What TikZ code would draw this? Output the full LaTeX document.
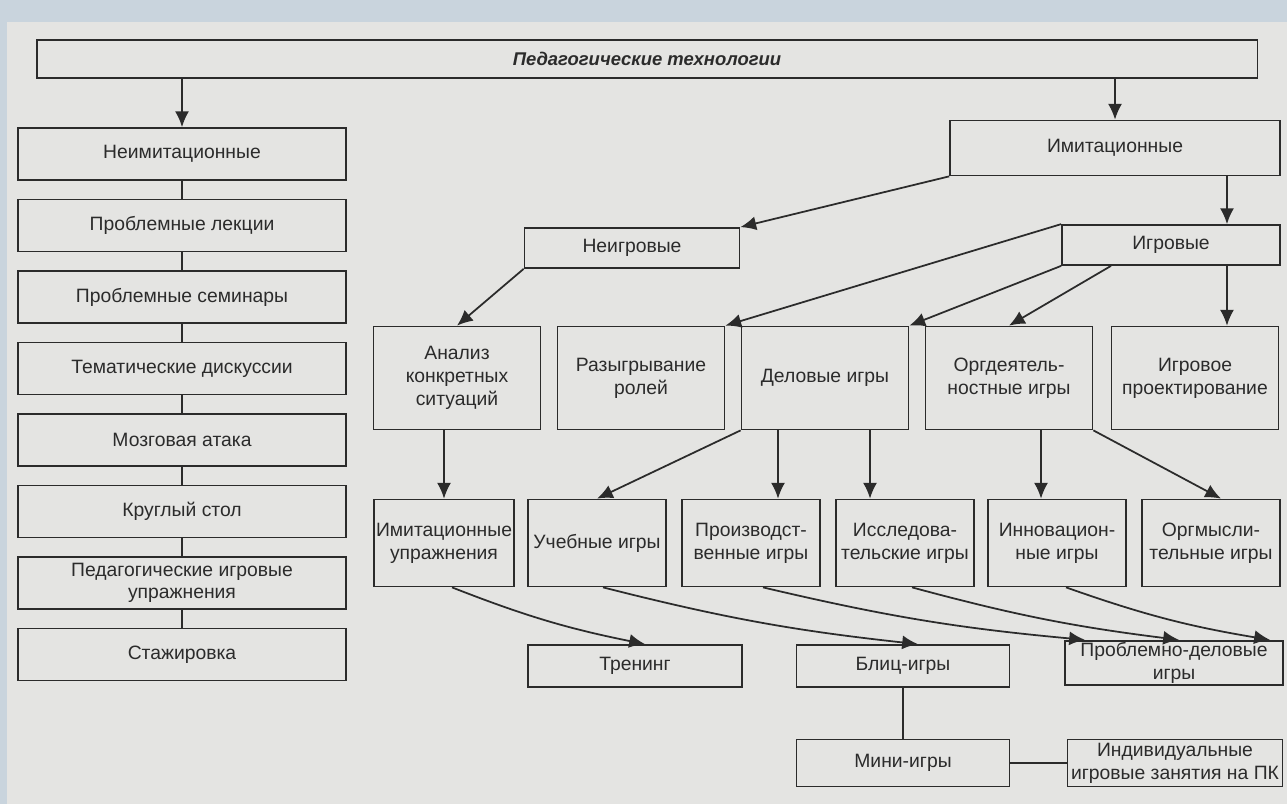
\documentclass[tikz,border=0pt]{standalone}
\usepackage{fontspec}
\setmainfont{Liberation Sans}
\usetikzlibrary{shapes.geometric, arrows.meta}

\definecolor{framecol}{HTML}{C9D4DD}
\definecolor{papercol}{HTML}{E4E4E2}
\definecolor{ink}{HTML}{2B2B2B}

\begin{document}
\begin{tikzpicture}[x=0.02cm, y=-0.02cm, node distance=1.43cm,
        box/.style={rectangle, draw=ink, line width=1pt, text=ink, align=center, inner sep=1pt, font=\fontsize{11}{13}\selectfont},
        leftbox/.style={box, minimum width=6.56cm, minimum height=1.04cm, font=\fontsize{11}{13}\selectfont},
        midbox/.style={box, minimum width=3.34cm, minimum height=2.06cm},
        gamebox/.style={box, minimum width=2.76cm, minimum height=1.74cm},
        arr/.style={draw=ink, line width=1pt, -{Latex[length=9pt,width=8pt]}},
        link/.style={draw=ink, line width=1pt}]

        \useasboundingbox (0,0) rectangle (1287,804);
        \fill[framecol] (0,0) rectangle (1287,804);
        \fill[papercol] (7,22) rectangle (1287,804);

            \node (ped) [box, minimum width=24.42cm, minimum height=0.76cm, font=\fontsize{10.5}{12}\selectfont\bfseries\itshape] at (647,59) {Педагогические технологии};

            % left column
            \node (neimit) [leftbox] at (182,154) {Неимитационные};
            \node (lekc) [leftbox, below of=neimit] {Проблемные лекции};
            \node (semin) [leftbox, below of=lekc] {Проблемные семинары};
            \node (diskus) [leftbox, below of=semin] {Тематические дискуссии};
            \node (ataka) [leftbox, below of=diskus] {Мозговая атака};
            \node (stol) [leftbox, below of=ataka] {Круглый стол};
            \node (pedupr) [leftbox, below of=stol] {Педагогические игровые\\упражнения};
            \node (stazh) [leftbox, below of=pedupr] {Стажировка};

            % right part
            \node (imit) [box, minimum width=6.6cm, minimum height=1.1cm] at (1115,148) {Имитационные};
            \node (neigr) [box, minimum width=4.3cm, minimum height=0.8cm] at (632,248) {Неигровые};
            \node (igr) [box, minimum width=4.36cm, minimum height=0.8cm] at (1171,245) {Игровые};

            \node (analiz) [midbox] at (457,378) {Анализ\\конкретных\\ситуаций};
            \node (razyg) [midbox] at (641,378) {Разыгрывание\\ролей};
            \node (delov) [midbox] at (825,378) {Деловые игры};
            \node (orgd) [midbox] at (1009,378) {Оргдеятель-\\ностные игры};
            \node (igrpr) [midbox] at (1195,378) {Игровое\\проектирование};

            \node (imupr) [gamebox] at (444,543) {Имитационные\\упражнения};
            \node (ucheb) [gamebox] at (597,543) {Учебные игры};
            \node (prozv) [gamebox] at (751,543) {Производст-\\венные игры};
            \node (issl) [gamebox] at (905,543) {Исследова-\\тельские игры};
            \node (innov) [gamebox] at (1057,543) {Инновацион-\\ные игры};
            \node (orgm) [gamebox] at (1211,543) {Оргмысли-\\тельные игры};

            \node (tren) [box, minimum width=4.28cm, minimum height=0.84cm] at (635,666) {Тренинг};
            \node (blic) [box, minimum width=4.26cm, minimum height=0.84cm] at (903,666) {Блиц-игры};
            \node (probl) [box, minimum width=4.36cm, minimum height=0.86cm] at (1174,663) {Проблемно-деловые\\игры};
            \node (mini) [box, minimum width=4.26cm, minimum height=0.94cm] at (903,763) {Мини-игры};
            \node (indiv) [box, minimum width=4.3cm, minimum height=0.94cm] at (1175,763) {Индивидуальные\\игровые занятия на ПК};

            \coordinate (igrx) at ([xshift=2.24cm]imit.south);
            \coordinate (pz) at ([xshift=0.54cm]prozv.north);
            \coordinate (is) at ([xshift=-0.7cm]issl.north);
            \coordinate (in) at ([xshift=-0.32cm]innov.north);

            % connectors
            \foreach \a/\b in {neimit/lekc, lekc/semin, semin/diskus, diskus/ataka, ataka/stol, stol/pedupr, pedupr/stazh}
                \draw[link] (\a) -- (\b);

            \draw[arr] (ped.south -| neimit.north) -- (neimit.north);
            \draw[arr] (ped.south -| imit.north) -- (imit.north);
            \draw[arr] (imit.south west) -- (neigr.north east);
            \draw[arr] (igrx) -- (igrx |- igr.north);
            \draw[arr] (neigr.south west) -- (analiz.north);
            \draw[arr] (igr.north west) -- (razyg.north east);
            \draw[arr] (igr.south west) -- (delov.north east);
            \draw[arr] ([xshift=-1.2cm]igr.south) -- (orgd.north);
            \draw[arr] (igrx |- igr.south) -- (igrx |- igrpr.north);

            \draw[arr] (imupr.north |- analiz.south) -- (imupr.north);
            \draw[arr] (delov.south west) -- (ucheb.north);
            \draw[arr] (pz |- delov.south) -- (pz);
            \draw[arr] (is |- delov.south) -- (is);
            \draw[arr] (in |- orgd.south) -- (in);
            \draw[arr] (orgd.south east) -- ([xshift=0.2cm]orgm.north);

            \draw[arr] ([xshift=0.16cm]imupr.south) to[bend right=5] ([xshift=0.2cm]tren.north);
            \draw[arr] ([xshift=0.12cm]ucheb.south) to[bend right=4] ([xshift=0.3cm]blic.north);
            \draw[arr] ([xshift=0.24cm]prozv.south) to[bend right=4] ([xshift=-1.78cm]probl.north);
            \draw[arr] ([xshift=0.14cm]issl.south) to[bend right=4] ([xshift=0.1cm]probl.north);
            \draw[arr] ([xshift=0.18cm]innov.south) to[bend right=5] ([xshift=1.92cm]probl.north);

            \draw[link] (blic) -- (mini);
            \draw[link] (mini) -- (indiv);

        \end{tikzpicture}
\end{document}
